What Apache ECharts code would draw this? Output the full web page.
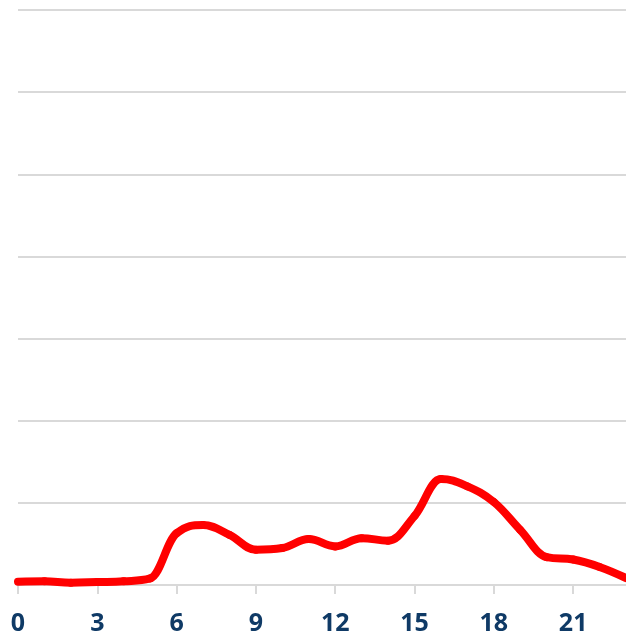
<!DOCTYPE html>
<html>
<head>
<meta charset="utf-8">
<script src="https://cdn.jsdelivr.net/npm/echarts@6/dist/echarts.min.js"></script>
<style>
html,body{margin:0;padding:0;background:#fff;}
#chart{width:626px;height:636px;}
</style>
</head>
<body>
<div id="chart"></div>
<script>
const hours = ['0','1','2','3','4','5','6','7','8','9','10','11','12','13','14','15','16','17','18','19','20','21','22','23'];
const values = [0.4,0.45,0.28,0.36,0.45,0.8,6.3,7.3,6.1,4.3,4.5,5.6,4.7,5.7,5.4,8.4,12.9,12.0,10.1,6.7,3.4,3.1,2.2,0.85];
const yMin = 0, yMax = 70, yStep = 10;

// Spline control points computed in pixel space from the axis coordinates
function makeRender() {
  return function (params, api) {
    const i = params.dataIndex;
    if (i === 0) return null;
    const n = values.length;
    const P = k => api.coord([k, values[k]]);
    function ctrl(k) {
      const p = P(k);
      if (k === 0 || k === n - 1) return {lx: p[0], ly: p[1], rx: p[0], ry: p[1]};
      const a = P(k - 1), b = P(k + 1);
      const s = 1.5, d = s + 1;
      let lx = (s * p[0] + a[0]) / d, ly = (s * p[1] + a[1]) / d;
      let rx = (s * p[0] + b[0]) / d, ry = (s * p[1] + b[1]) / d;
      let corr = 0;
      if (rx !== lx) corr = (ry - ly) * (rx - p[0]) / (rx - lx) + p[1] - ry;
      ly += corr; ry += corr;
      if (ly > a[1] && ly > p[1]) { ly = Math.max(a[1], p[1]); ry = 2 * p[1] - ly; }
      else if (ly < a[1] && ly < p[1]) { ly = Math.min(a[1], p[1]); ry = 2 * p[1] - ly; }
      if (ry > b[1] && ry > p[1]) { ry = Math.max(b[1], p[1]); ly = 2 * p[1] - ry; }
      else if (ry < b[1] && ry < p[1]) { ry = Math.min(b[1], p[1]); ly = 2 * p[1] - ry; }
      return {lx, ly, rx, ry};
    }
    const p0 = P(i - 1), p1 = P(i);
    const c0 = ctrl(i - 1), c1 = ctrl(i);
    return {
      type: 'bezierCurve',
      shape: {x1: p0[0], y1: p0[1], x2: p1[0], y2: p1[1],
              cpx1: c0.rx, cpy1: c0.ry, cpx2: c1.lx, cpy2: c1.ly},
      style: {stroke: '#ff0000', lineWidth: 8, fill: null, lineCap: 'round'}
    };
  };
}

const chart = echarts.init(document.getElementById('chart'));
chart.setOption({
  animation: false,
  grid: {left: 18, right: -5, top: 10, bottom: 51},
  xAxis: {
    type: 'category',
    data: hours,
    boundaryGap: false,
    axisLine: {lineStyle: {color: '#d9d9d9', width: 2}},
    axisTick: {interval: 2, length: 9, lineStyle: {color: '#d9d9d9', width: 2}},
    axisLabel: {
      interval: 2,
      margin: 26,
      color: '#0f3a66',
      fontFamily: 'Open Sans',
      fontWeight: 'bold',
      fontSize: 25
    },
    splitLine: {show: false}
  },
  yAxis: {
    type: 'value',
    min: yMin, max: yMax, interval: yStep,
    axisLine: {show: false},
    axisTick: {show: false},
    axisLabel: {show: false},
    splitLine: {lineStyle: {color: '#d9d9d9', width: 2}}
  },
  series: [{
    type: 'custom',
    data: values.map((v, i) => [i, v]),
    encode: {x: 0, y: 1},
    renderItem: makeRender()
  }]
});
</script>
</body>
</html>
